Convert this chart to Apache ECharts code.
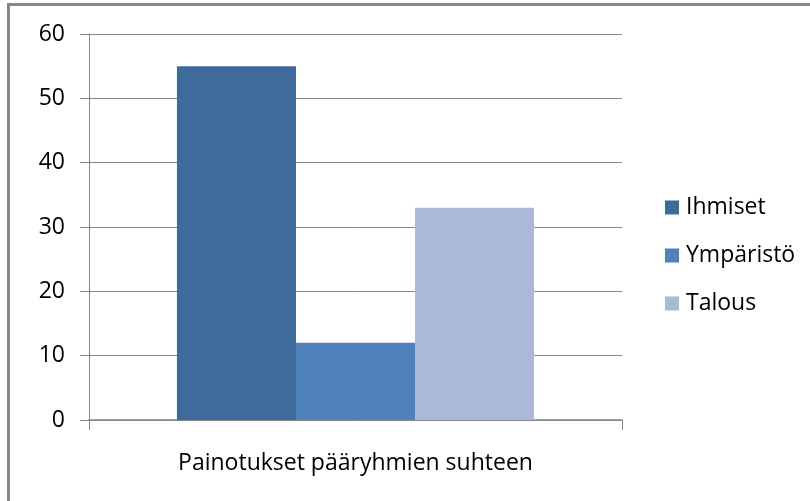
<!DOCTYPE html>
<html>
<head>
<meta charset="utf-8">
<script src="https://cdn.jsdelivr.net/npm/echarts@6/dist/echarts.min.js"></script>
<style>
html,body{margin:0;padding:0;background:#fff;}
#chart{position:absolute;left:0;top:0;width:810px;height:501px;}
#frame{position:absolute;left:7px;top:3px;width:810px;height:510px;border-left:3px solid #878787;border-top:3px solid #878787;pointer-events:none;}
</style>
</head>
<body>
<div id="chart"></div>
<div id="frame"></div>
<script>
const categories = ['Painotukset pääryhmien suhteen'];
const seriesNames = ['Ihmiset', 'Ympäristö', 'Talous'];
const ihmiset = [55];
const ymparisto = [12];
const talous = [33];
const seriesValues = [ihmiset, ymparisto, talous];
const seriesColors = ['#3F6A9C', '#4F81BD', '#AAB9D7'];

const font = 'Open Sans';
const chart = echarts.init(document.getElementById('chart'), null, {renderer: 'canvas'});
chart.setOption({
  animation: false,
  backgroundColor: '#fff',
  grid: {left: 89, right: 188, top: 34, bottom: 81, containLabel: false},
  legend: {
    orient: 'vertical',
    left: 665,
    top: 195.5,
    padding: 0,
    itemWidth: 14,
    itemHeight: 14,
    itemGap: 24,
    icon: 'rect',
    data: seriesNames,
    textStyle: {fontFamily: font, fontSize: 23, color: '#000', lineHeight: 24, padding: [0,0,0,2]}
  },
  xAxis: {
    type: 'category',
    data: categories,
    axisLine: {lineStyle: {color: '#868686', width: 1.5}},
    axisTick: {show: true, alignWithLabel: false, length: 10, lineStyle: {color: '#868686'}},
    axisLabel: {fontFamily: font, fontSize: 23, color: '#000', margin: 30, lineHeight: 26}
  },
  yAxis: {
    type: 'value',
    min: 0, max: 60, interval: 10,
    axisLine: {show: true, lineStyle: {color: '#868686', width: 1}},
    axisTick: {show: true, length: 9, lineStyle: {color: '#868686'}},
    splitLine: {lineStyle: {color: '#868686', width: 1}},
    axisLabel: {fontFamily: font, fontSize: 23, color: '#000', margin: 24}
  },
  series: seriesNames.map((n, i) => ({
    name: n,
    type: 'bar',
    data: seriesValues[i],
    itemStyle: {color: seriesColors[i]},
    barGap: '0%',
    barCategoryGap: '33%'
  }))
});
</script>
</body>
</html>
